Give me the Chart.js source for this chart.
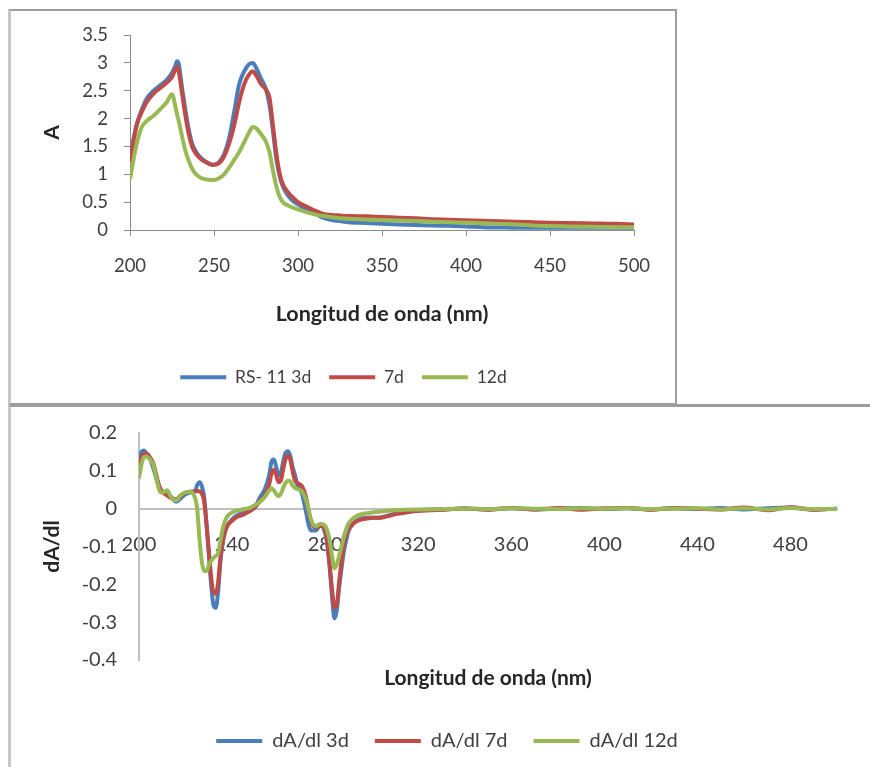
<!DOCTYPE html>
<html>
<head>
<meta charset="utf-8">
<script src="https://cdn.jsdelivr.net/npm/chart.js@4.4.1/dist/chart.umd.min.js"></script>
<style>
  html, body { margin: 0; padding: 0; background: #fff; overflow: hidden; }
  body { width: 870px; height: 767px; position: relative; }
  .frame { position: absolute; box-sizing: border-box; }
  #frameTop { left: 8px; top: 9px; width: 669px; height: 397px;
    border-top: 2px solid #9d9d9d; border-right: 2px solid #9d9d9d;
    border-bottom: 3px solid #9d9d9d; border-left: 3px solid #c8c8c8; }
  #frameBottom { left: 8px; top: 404px; width: 900px; height: 400px;
    border-top: 3px solid #9d9d9d; border-left: 3px solid #c8c8c8; }
  canvas { position: absolute; }
  #absChart { left: 10px; top: 8px; }
  #derivChart { left: 10px; top: 399px; }
</style>
</head>
<body>
<div class="frame" id="frameTop"></div>
<div class="frame" id="frameBottom"></div>
<canvas id="absChart" width="667" height="388"></canvas>
<canvas id="derivChart" width="874" height="362"></canvas>
<script>
// absorbance spectra (nm, A)
const absNm = [200, 202, 204, 207, 210, 214, 218, 222, 225, 227, 228, 229, 231, 233, 235, 237, 239, 242, 245, 248,
  250, 253, 256, 259, 262, 265, 268, 271, 273, 275, 278, 281, 283, 285, 287, 289, 291, 294, 297, 300,
  305, 310, 315, 320, 325, 330, 340, 350, 360, 370, 380, 390, 400, 410, 420, 430, 440, 450, 460, 470, 480, 490, 500];
const abs3d = [1.30, 1.62, 1.90, 2.16, 2.36, 2.50, 2.60, 2.70, 2.82, 2.95, 3.03, 2.98, 2.55, 2.15, 1.80, 1.55, 1.42, 1.30, 1.23, 1.18,
  1.17, 1.22, 1.36, 1.65, 2.12, 2.62, 2.85, 2.98, 3.00, 2.92, 2.72, 2.52, 2.25, 1.80, 1.30, 0.98, 0.78, 0.62, 0.52, 0.46,
  0.37, 0.30, 0.22, 0.18, 0.16, 0.14, 0.125, 0.11, 0.10, 0.09, 0.08, 0.075, 0.065, 0.05, 0.045, 0.04, 0.04, 0.04, 0.04, 0.04, 0.04, 0.04, 0.04];
const abs7d = [1.22, 1.58, 1.88, 2.12, 2.30, 2.45, 2.55, 2.65, 2.75, 2.88, 2.93, 2.85, 2.45, 2.05, 1.72, 1.50, 1.38, 1.28, 1.22, 1.18,
  1.17, 1.20, 1.32, 1.55, 1.88, 2.30, 2.62, 2.80, 2.85, 2.78, 2.62, 2.52, 2.38, 1.90, 1.40, 1.02, 0.82, 0.68, 0.58, 0.50,
  0.42, 0.35, 0.29, 0.27, 0.26, 0.25, 0.245, 0.235, 0.22, 0.21, 0.195, 0.185, 0.175, 0.165, 0.155, 0.15, 0.14, 0.13, 0.125, 0.12, 0.115, 0.11, 0.10];
const abs12d = [0.92, 1.25, 1.55, 1.85, 1.96, 2.05, 2.17, 2.30, 2.44, 2.22, 2.08, 1.96, 1.68, 1.42, 1.24, 1.10, 1.01, 0.94, 0.91, 0.90,
  0.90, 0.93, 1.00, 1.12, 1.26, 1.40, 1.58, 1.76, 1.85, 1.83, 1.72, 1.58, 1.40, 1.08, 0.80, 0.60, 0.50, 0.44, 0.40, 0.37,
  0.32, 0.28, 0.25, 0.23, 0.21, 0.20, 0.19, 0.18, 0.17, 0.16, 0.15, 0.14, 0.13, 0.12, 0.11, 0.10, 0.08, 0.07, 0.065, 0.06, 0.055, 0.05, 0.05];

// first derivative (nm, dA/dl)
const derivNm = [200, 201, 202, 203, 204, 205, 206, 207, 208, 209, 210, 212, 214, 216, 218, 220, 222, 224, 225, 226,
  227, 228, 229, 230, 231, 232, 233, 234, 235, 236, 237, 238, 240, 242, 244, 246, 248, 250, 252, 254,
  256, 257, 258, 259, 260, 261, 262, 263, 264, 265, 266, 267, 268, 270, 272, 273, 274, 276, 278, 280,
  281, 282, 283, 284, 285, 286, 287, 288, 289, 290, 292, 294, 296, 298, 300, 303, 306, 310, 314, 318,
  320, 330, 340, 350, 360, 370, 380, 390, 400, 410, 420, 430, 440, 450, 460, 470, 480, 490, 500];
const deriv3d = [0.128, 0.150, 0.154, 0.148, 0.140, 0.128, 0.110, 0.090, 0.068, 0.052, 0.044, 0.040, 0.030, 0.018, 0.028, 0.038, 0.043, 0.045, 0.062, 0.070,
  0.060, 0.030, -0.040, -0.120, -0.200, -0.255, -0.262, -0.220, -0.140, -0.090, -0.062, -0.045, -0.028, -0.018, -0.013, -0.010, -0.004, 0.005, 0.030, 0.050,
  0.090, 0.125, 0.130, 0.110, 0.088, 0.095, 0.125, 0.148, 0.152, 0.140, 0.110, 0.090, 0.065, 0.040, -0.015, -0.045, -0.058, -0.058, -0.042, -0.065,
  -0.100, -0.160, -0.235, -0.290, -0.270, -0.210, -0.160, -0.115, -0.085, -0.060, -0.040, -0.030, -0.025, -0.024, -0.024, -0.024, -0.020, -0.013, -0.010, -0.006,
  -0.004, -0.002, 0.000, -0.002, 0.001, -0.002, 0.000, 0.002, -0.001, 0.001, -0.002, 0.001, -0.001, 0.002, -0.002, 0.001, 0.003, -0.002, 0.000];
const deriv7d = [0.115, 0.135, 0.145, 0.146, 0.142, 0.133, 0.122, 0.100, 0.075, 0.055, 0.045, 0.035, 0.027, 0.025, 0.035, 0.042, 0.045, 0.046, 0.047, 0.046,
  0.040, 0.020, -0.040, -0.110, -0.180, -0.222, -0.225, -0.195, -0.130, -0.085, -0.058, -0.045, -0.032, -0.022, -0.018, -0.012, -0.005, 0.005, 0.020, 0.035,
  0.065, 0.095, 0.102, 0.088, 0.070, 0.075, 0.105, 0.132, 0.140, 0.130, 0.100, 0.075, 0.068, 0.060, 0.025, -0.010, -0.035, -0.050, -0.045, -0.055,
  -0.090, -0.150, -0.215, -0.262, -0.255, -0.195, -0.140, -0.095, -0.070, -0.055, -0.040, -0.032, -0.028, -0.026, -0.024, -0.024, -0.021, -0.015, -0.011, -0.007,
  -0.006, -0.003, 0.001, -0.003, 0.002, -0.002, 0.002, -0.003, 0.001, 0.002, -0.003, 0.002, 0.000, -0.002, 0.003, -0.004, 0.004, -0.003, 0.000];
const deriv12d = [0.080, 0.115, 0.135, 0.138, 0.135, 0.128, 0.118, 0.095, 0.065, 0.045, 0.042, 0.049, 0.028, 0.022, 0.036, 0.043, 0.045, 0.030, 0.000, -0.080,
  -0.140, -0.165, -0.165, -0.150, -0.138, -0.130, -0.125, -0.118, -0.085, -0.052, -0.032, -0.020, -0.010, -0.005, -0.003, 0.000, 0.003, 0.010, 0.018, 0.030,
  0.048, 0.054, 0.048, 0.038, 0.033, 0.040, 0.055, 0.068, 0.074, 0.072, 0.062, 0.055, 0.052, 0.046, 0.020, -0.005, -0.030, -0.046, -0.040, -0.045,
  -0.060, -0.085, -0.125, -0.158, -0.148, -0.125, -0.100, -0.075, -0.055, -0.040, -0.026, -0.018, -0.014, -0.012, -0.010, -0.008, -0.006, -0.004, -0.003, -0.002,
  -0.002, -0.001, 0.000, -0.001, 0.001, 0.000, -0.001, 0.001, 0.000, 0.001, -0.001, 0.000, 0.001, -0.002, 0.001, -0.002, 0.002, -0.001, -0.001];

const absLabels = ['RS- 11 3d', '7d', '12d'];
const derivLabels = ['dA/dl 3d', 'dA/dl 7d', 'dA/dl 12d'];
const seriesColors = ['#4a7ebb', '#be4b48', '#98b954'];

Chart.defaults.font.family = 'Lato, "Open Sans", sans-serif';
Chart.defaults.color = '#404040';

const axisGrey = '#8a8a8a';
const xTitle = 'Longitud de onda (nm)';

function toPoints(xs, ys) {
  return xs.map((x, i) => ({ x: x, y: ys[i] }));
}

// green drawn last, red under it, blue at the bottom
function lineSet(label, xs, ys, i) {
  return {
    label: label,
    data: toPoints(xs, ys),
    borderColor: seriesColors[i],
    backgroundColor: seriesColors[i],
    borderWidth: 4,
    pointRadius: 0,
    cubicInterpolationMode: 'monotone',
    order: 3 - i
  };
}

function legendOpts(size, gap) {
  return {
    position: 'bottom',
    labels: {
      usePointStyle: true,
      pointStyle: 'line',
      pointStyleWidth: 46,
      padding: gap,
      color: '#404040',
      font: { size: size },
      sort: (a, b) => a.datasetIndex - b.datasetIndex
    }
  };
}

// spacer axis on the right so the legend centres on the whole frame
function spacerAxis(w) {
  return {
    type: 'linear', position: 'right', display: true,
    grid: { display: false }, border: { display: false }, ticks: { display: false },
    afterFit: s => { s.width = w; }
  };
}

new Chart(document.getElementById('absChart'), {
  type: 'line',
  data: {
    datasets: [
      lineSet(absLabels[0], absNm, abs3d, 0),
      lineSet(absLabels[1], absNm, abs7d, 1),
      lineSet(absLabels[2], absNm, abs12d, 2)
    ]
  },
  options: {
    responsive: false,
    animation: false,
    devicePixelRatio: 1,
    layout: { padding: { left: 0, right: 0, top: 27, bottom: 0 } },
    plugins: {
      legend: legendOpts(17.5, 18),
      tooltip: { enabled: false }
    },
    scales: {
      x: {
        type: 'linear', min: 200, max: 500,
        ticks: { stepSize: 50, padding: 19, font: { size: 18.5 } },
        grid: { display: true, drawOnChartArea: false, drawTicks: true, tickLength: 6, color: axisGrey },
        border: { display: true, color: axisGrey, width: 1 },
        title: { display: true, text: xTitle, color: '#262626', font: { size: 21.5, weight: 'bold' }, padding: { top: 0, bottom: 24 } },
        afterFit: s => { s.height = 120.5; }
      },
      y: {
        type: 'linear', min: 0, max: 3.5,
        ticks: { stepSize: 0.5, padding: 16, font: { size: 18.5 }, callback: v => String(v) },
        grid: { display: true, drawOnChartArea: false, drawTicks: true, tickLength: 6, color: axisGrey },
        border: { display: true, color: axisGrey, width: 1 },
        title: { display: true, text: 'A', color: '#262626', font: { size: 21, weight: 'bold' }, padding: { top: 30, bottom: 0 } },
        afterFit: s => { s.width = 120; }
      },
      yr: spacerAxis(43)
    }
  }
});

new Chart(document.getElementById('derivChart'), {
  type: 'line',
  data: {
    datasets: [
      lineSet(derivLabels[0], derivNm, deriv3d, 0),
      lineSet(derivLabels[1], derivNm, deriv7d, 1),
      lineSet(derivLabels[2], derivNm, deriv12d, 2)
    ]
  },
  options: {
    responsive: false,
    animation: false,
    devicePixelRatio: 1,
    layout: { padding: { left: 0, right: 0, top: 20, bottom: 0 } },
    plugins: {
      legend: legendOpts(20, 26),
      tooltip: { enabled: false }
    },
    scales: {
      // value axis crosses at zero, labels hang below it
      x: {
        type: 'linear', min: 200, max: 500, position: { y: 0 },
        ticks: { stepSize: 40, includeBounds: false, padding: 24, font: { size: 20 } },
        grid: { display: false, drawTicks: false },
        border: { display: true, color: '#bfbfbf', width: 2 }
      },
      xt: {
        type: 'linear', min: 200, max: 500, position: 'bottom',
        ticks: { display: false },
        grid: { display: false, drawTicks: false },
        border: { display: false },
        title: { display: true, text: xTitle, color: '#262626', font: { size: 21, weight: 'bold' }, padding: { top: 0, bottom: 14 } },
        afterFit: s => { s.height = 45; }
      },
      y: {
        type: 'linear', min: -0.4, max: 0.2,
        ticks: { stepSize: 0.1, padding: 22, font: { size: 20 }, callback: v => String(Math.round(v * 10) / 10) },
        grid: { display: false, drawTicks: false },
        border: { display: true, color: '#bfbfbf', width: 2 },
        title: { display: true, text: 'dA/dl', color: '#262626', font: { size: 21, weight: 'bold' }, padding: { top: 30, bottom: 0 } },
        afterFit: s => { s.width = 129; }
      },
      yr: spacerAxis(47)
    }
  }
});
</script>
</body>
</html>
